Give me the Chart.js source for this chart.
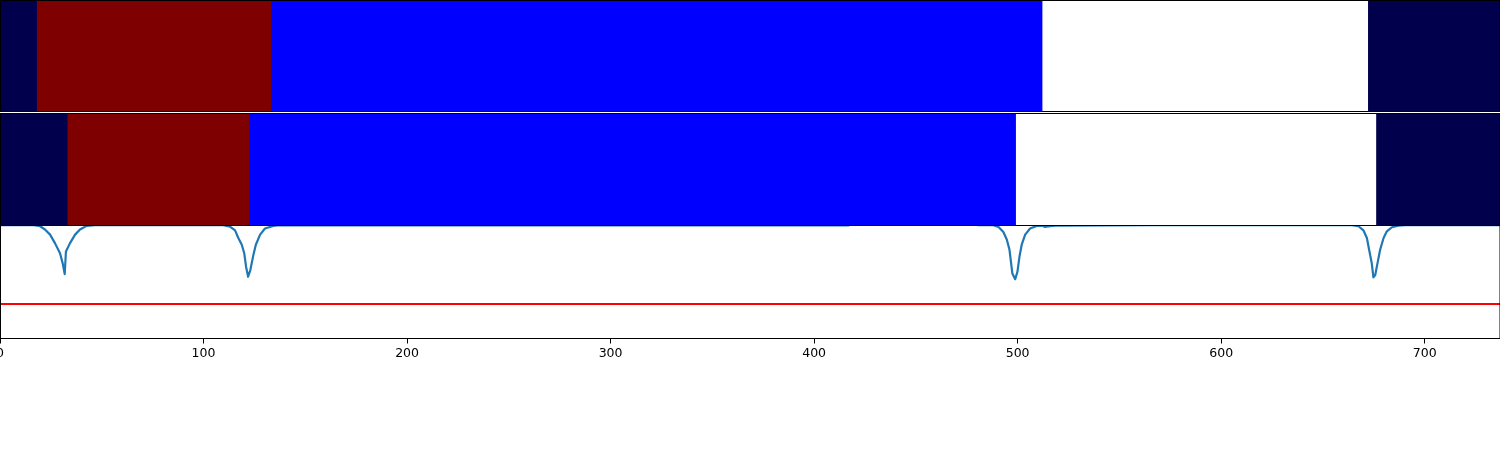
<!DOCTYPE html>
<html>
<head>
<meta charset="utf-8">
<title>Segmentation strips</title>
<script src="https://cdn.jsdelivr.net/npm/chart.js@4"></script>
<style>
html, body { margin: 0; padding: 0; background: #fff; overflow: hidden; }
canvas { position: absolute; left: 0; }
#topStrip { top: 0; }
#bottomStrip { top: 113px; }
#scoreChart { top: 225px; }
</style>
</head>
<body>
<canvas id="topStrip" width="1500" height="112"></canvas>
<canvas id="bottomStrip" width="1500" height="113"></canvas>
<canvas id="scoreChart" width="1500" height="225"></canvas>
<script>
const X_MAX = 737;
const xTicks = [0, 100, 200, 300, 400, 500, 600, 700];

// segment edges and class of each segment
const topEdges = [0, 18, 133, 512, 672, X_MAX];
const topClasses = ['navy', 'maroon', 'blue', 'white', 'navy'];
const bottomEdges = [0, 33, 122.4, 499, 676, X_MAX];
const bottomClasses = ['navy', 'maroon', 'blue', 'white', 'navy'];

const classColors = { navy: '#00004c', maroon: '#7f0000', blue: '#0000ff', white: '#ffffff' };

// score curve
const scoreX = [
    0, 10, 16.7, 19.7, 22.1, 24.6, 27, 29.5, 30.8, 31.8, 32.4, 34.4, 36.9, 39.3, 42.6, 46.7,
    109.6, 113, 115.5, 117.1, 118.8, 120, 120.9, 121.9, 123, 124.5, 125.7, 127.8, 130.2, 134.3, 137.6,
    300, 417, 417.5, 480, 480.6,
    488, 490.6, 493, 494.7, 496, 496.7, 497.4, 498.8, 499.9, 500.9, 502, 503.7, 506.1, 509.4, 512.4, 513.2, 516, 518.4, 565,
    664.2, 667.5, 669.9, 671.6, 672.7, 674, 674.8, 675.7, 676.8, 678.1, 679.8, 681.4, 683.9, 687.1, 690.4, X_MAX
];
const scoreY = [
    1, 1, 1, 0.991, 0.962, 0.917, 0.842, 0.753, 0.663, 0.569, 0.768, 0.842, 0.917, 0.962, 0.994, 1,
    1, 0.988, 0.955, 0.887, 0.828, 0.753, 0.634, 0.545, 0.604, 0.738, 0.828, 0.917, 0.971, 0.994, 1,
    0.999, 0.999, 1.012, 1.012, 1,
    1, 0.985, 0.94, 0.872, 0.783, 0.679, 0.574, 0.524, 0.589, 0.723, 0.828, 0.917, 0.971, 0.994, 0.994, 0.985, 0.991, 0.996, 1,
    1, 0.991, 0.955, 0.887, 0.783, 0.663, 0.54, 0.56, 0.663, 0.783, 0.887, 0.946, 0.982, 0.997, 1, 1
];
const thresholdX = [0, X_MAX];
const thresholdY = [0.304, 0.304];

// black box round the plot area, on top of the data
const framePlugin = {
    id: 'frame',
    afterDraw(chart) {
        const { ctx, chartArea } = chart;
        const bottomLine = Math.floor(chartArea.bottom - 0.5) + 0.5;
        ctx.save();
        ctx.strokeStyle = '#000';
        ctx.lineWidth = 1;
        ctx.strokeRect(0.5, 0.5, chart.width - 0.5, bottomLine - 0.5);
        ctx.restore();
    }
};

function drawStrip(id, edges, classes) {
    const datasets = classes.map((name, i) => ({
        data: [[edges[i], edges[i + 1]]],
        backgroundColor: classColors[name],
        borderWidth: 0,
        barPercentage: 1,
        categoryPercentage: 1,
        grouped: false
    }));
    return new Chart(document.getElementById(id), {
        type: 'bar',
        data: { labels: ['strip'], datasets: datasets },
        options: {
            indexAxis: 'y',
            responsive: false,
            animation: false,
            layout: { padding: 0 },
            plugins: { legend: { display: false }, tooltip: { enabled: false } },
            scales: {
                x: { display: false, min: 0, max: X_MAX },
                y: { display: false }
            }
        },
        plugins: [framePlugin]
    });
}

drawStrip('topStrip', topEdges, topClasses);
drawStrip('bottomStrip', bottomEdges, bottomClasses);

new Chart(document.getElementById('scoreChart'), {
    type: 'line',
    data: {
        datasets: [
            {
                data: scoreX.map((x, i) => ({ x: x, y: scoreY[i] })),
                borderColor: '#1f77b4',
                borderWidth: 2.2,
                borderJoinStyle: 'round',
                pointRadius: 0,
                tension: 0,
                clip: 0
            },
            {
                data: thresholdX.map((x, i) => ({ x: x, y: thresholdY[i] })),
                borderColor: '#ff0000',
                borderWidth: 2,
                pointRadius: 0,
                clip: 0
            }
        ]
    },
    options: {
        responsive: false,
        animation: false,
        layout: { padding: 0 },
        plugins: { legend: { display: false }, tooltip: { enabled: false } },
        scales: {
            x: {
                type: 'linear',
                min: 0,
                max: X_MAX,
                border: { display: false },
                grid: { drawOnChartArea: false, drawTicks: true, tickLength: 5, color: '#000', lineWidth: 1 },
                afterBuildTicks(scale) {
                    scale.ticks = xTicks.map(v => ({ value: v }));
                },
                ticks: {
                    color: '#000',
                    maxRotation: 0,
                    padding: 3,
                    font: { family: 'DejaVu Sans', size: 12.5 }
                },
                // keep the plot area full width and its bottom edge fixed
                afterFit(scale) {
                    scale.paddingLeft = 0;
                    scale.paddingRight = 0;
                    scale.height = 111.5;
                }
            },
            y: { display: false, min: 0, max: 1.002 }
        }
    },
    plugins: [framePlugin]
});
</script>
</body>
</html>
